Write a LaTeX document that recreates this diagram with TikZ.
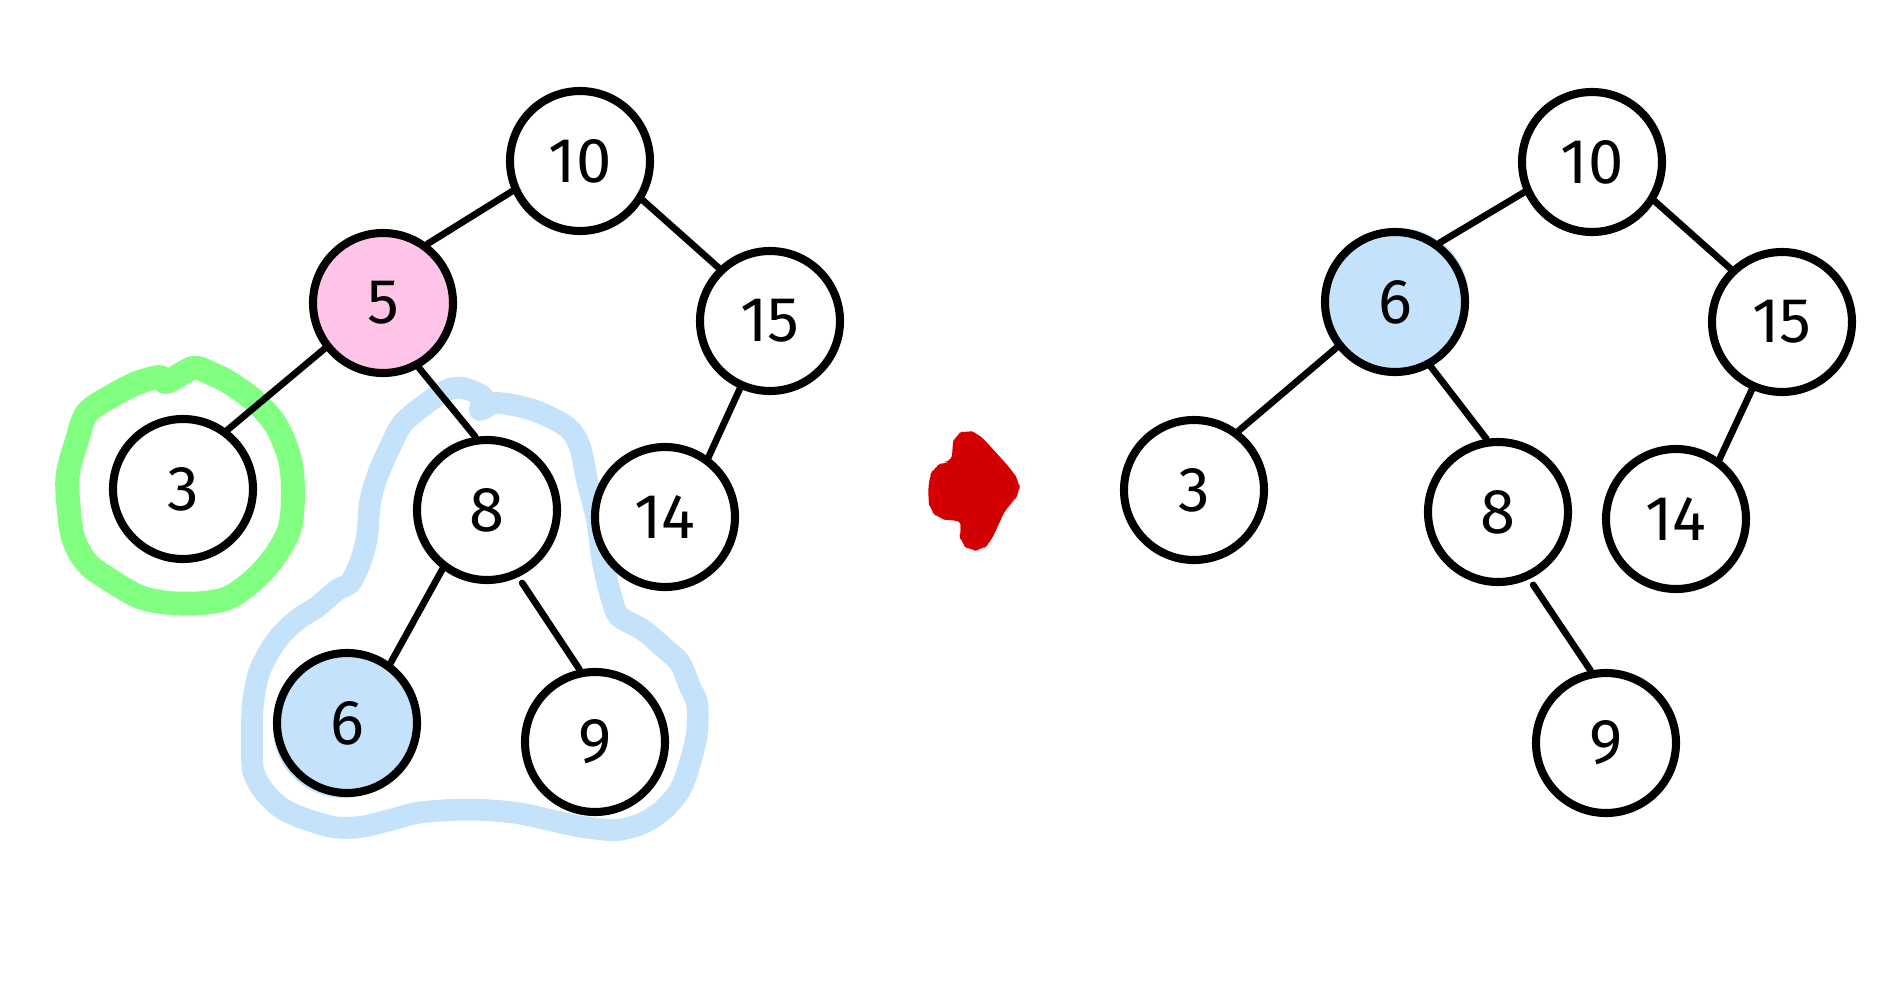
\documentclass[tikz,border=0pt]{standalone}
\usepackage{fontspec}
\setmainfont{Fira Sans}
\definecolor{pinkfill}{RGB}{255,196,232}
\definecolor{bluefill}{RGB}{196,226,252}
\definecolor{loopgreen}{RGB}{128,255,128}
\definecolor{loopblue}{RGB}{196,226,250}
\definecolor{arrowred}{RGB}{210,0,0}
\tikzset{
  tnode/.style={circle, draw=black, line width=2.3pt, fill=white, minimum size=140*0.01cm, inner sep=0pt, font=\fontsize{18}{21}\selectfont},
  pinknode/.style={tnode, fill=pinkfill},
  bluenode/.style={tnode, fill=bluefill},
  edge/.style={line width=1.9pt, line cap=round},
  greenloop/.style={draw=loopgreen, line width=6.8pt, line cap=round, line join=round},
  blueloop/.style={draw=loopblue, line width=6.2pt, line cap=round, line join=round},
}
\begin{document}
\begin{tikzpicture}[x=0.01cm, y=-0.01cm]
\useasboundingbox (0,0) rectangle (1884,1000);
% loops
\draw[greenloop] plot[smooth cycle, tension=0.55] coordinates {
 (167,382) (193,368) (210,373) (230,383) (257,403) (277,427) (290,460) (293,493)
 (290,527) (277,553) (257,577) (230,597) (203,603) (170,603) (140,597) (110,580)
 (87,563) (73,537) (68,500) (68,473) (77,440) (87,413) (110,397) (137,383) (160,377)};
\draw[blueloop] plot[smooth cycle, tension=0.5] coordinates {
 (463,388) (483,397) (480,410) (497,403) (533,410) (567,427) (580,447) (587,480)
 (597,520) (603,563) (613,603) (620,617) (643,630) (663,647) (680,663) (690,687)
 (697,703) (697,733) (690,763) (680,790) (663,810) (643,823) (617,830) (583,827)
 (550,820) (517,813) (483,810) (450,810) (417,813) (390,820) (360,827) (333,827)
 (300,817) (280,807) (263,790) (253,770) (252,737) (253,703) (260,670) (277,640)
 (297,620) (317,607) (337,590) (350,583) (360,563) (367,537) (370,503) (377,477)
 (390,447) (403,423) (427,403) (447,390)};
% slightly offset fills behind the blue nodes
\fill[bluefill] (343,728) circle (70);
\fill[bluefill] (1399,298) circle (70);
% left tree nodes
\node[tnode] (La) at (580,161) {10};
\node[pinknode] (Lb) at (383,303) {5};
\node[tnode] (Lc) at (770,321) {15};
\node[tnode] (Ld) at (183,489) {3};
\node[tnode] (Le) at (487,510) {8};
\node[tnode] (Lf) at (665,517) {14};
\node[bluenode] (Lg) at (347,723) {6};
\node[tnode] (Lh) at (595,742) {9};
% right tree nodes
\node[tnode] (Ra) at (1592,162) {10};
\node[bluenode] (Rb) at (1395,302) {6};
\node[tnode] (Rc) at (1782,322) {15};
\node[tnode] (Rd) at (1194,490) {3};
\node[tnode] (Re) at (1498,512) {8};
\node[tnode] (Rf) at (1676,519) {14};
\node[tnode] (Rh) at (1606,743) {9};
% edges
\draw[edge] (La.204) -- (Lb.53);
\draw[edge] (La.-32) -- (Lc.134);
\draw[edge] (Lb.218) -- (Ld.53);
\draw[edge] (Lb.-61) -- (Le.99);
\draw[edge] (Lc.246) -- (Lf.54);
\draw[edge] (Le.233) -- (Lg.54);
\draw[edge, shorten <=7*0.01cm] (Le.-65) -- (Lh.102);
\draw[edge] (Ra.204) -- (Rb.53);
\draw[edge] (Ra.-32) -- (Rc.134);
\draw[edge] (Rb.218) -- (Rd.53);
\draw[edge] (Rb.-61) -- (Re.99);
\draw[edge] (Rc.246) -- (Rf.54);
\draw[edge, shorten <=7*0.01cm] (Re.-65) -- (Rh.102);
% red arrow
\fill[arrowred, rounded corners=2.5pt] (951.7,447) -- (955,435) -- (966,430) -- (978,433)
 -- (996.7,453.3) -- (1011.7,470) -- (1019.3,481.7) -- (1020,492) -- (1013,502)
 -- (1006,508) -- (998,526) -- (990,543) -- (982,550) -- (970,551) -- (961,543)
 -- (959,532) -- (963,520) -- (950,521) -- (938,518) -- (930,510) -- (928,498)
 -- (929,478) -- (934,467) -- (944,462) -- (953,461.5) -- cycle;
\end{tikzpicture}
\end{document}
